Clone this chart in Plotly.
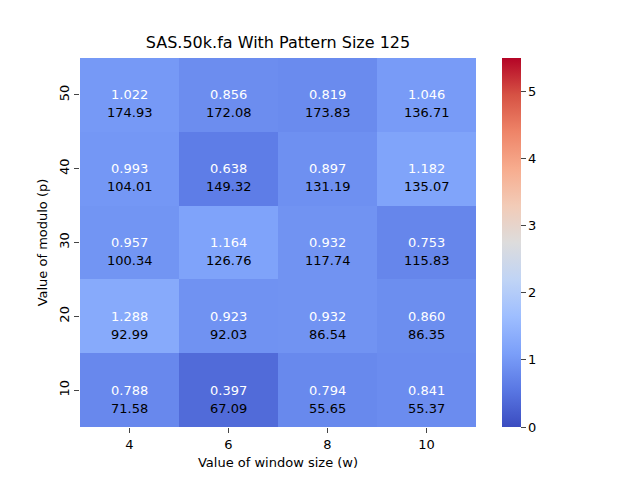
import plotly.graph_objects as go

window_sizes = ["4", "6", "8", "10"]
modulos = ["10", "20", "30", "40", "50"]

# ratio values (white, coloured cell) – rows from p=10 up to p=50
ratio = [
    [0.788, 0.397, 0.794, 0.841],
    [1.288, 0.923, 0.932, 0.860],
    [0.957, 1.164, 0.932, 0.753],
    [0.993, 0.638, 0.897, 1.182],
    [1.022, 0.856, 0.819, 1.046],
]

# second line of each cell (black)
timing = [
    [71.58, 67.09, 55.65, 55.37],
    [92.99, 92.03, 86.54, 86.35],
    [100.34, 126.76, 117.74, 115.83],
    [104.01, 149.32, 131.19, 135.07],
    [174.93, 172.08, 173.83, 136.71],
]

coolwarm = ["#3b4cc0", "#5977e3", "#7b9ff9", "#9ebeff", "#c0d4f5", "#dddcdc",
            "#f2cbb7", "#f7ac8e", "#ee8468", "#d65244", "#b40426"]
scale = [[i / 10, c] for i, c in enumerate(coolwarm)]

fig = go.Figure(go.Heatmap(
    x=window_sizes, y=modulos, z=ratio,
    zmin=0, zmax=5.5, colorscale=scale,
    xgap=0, ygap=0, hoverinfo="skip",
    colorbar=dict(x=1.066, xanchor="left", xpad=0, ypad=0, thickness=19,
                  len=1, outlinewidth=0, ticks="outside", ticklen=5,
                  tickvals=[0, 1, 2, 3, 4, 5],
                  tickfont=dict(size=13, color="black")),
))

annotations = []
for i, p in enumerate(modulos):
    for j, w in enumerate(window_sizes):
        annotations.append(dict(x=j, y=i, text=f"{ratio[i][j]:.3f}", showarrow=False,
                                yshift=0, font=dict(size=13, color="white")))
        annotations.append(dict(x=j, y=i, text=f"{timing[i][j]:.2f}", showarrow=False,
                                yshift=-18, font=dict(size=13, color="black")))

# page body adds 8px, so margins are pulled in by 8
fig.update_layout(
    width=640, height=480,
    margin=dict(l=72, r=172, t=50, b=61),
    paper_bgcolor="white", plot_bgcolor="white",
    font=dict(family="DejaVu Sans", color="black"),
    title=dict(text="SAS.50k.fa With Pattern Size 125", x=270 / 640,
               xanchor="center", y=1 - 34 / 480, yanchor="middle",
               font=dict(size=16)),
    xaxis=dict(type="category", title=dict(text="Value of window size (w)", font=dict(size=13), standoff=7),
               ticks="outside", ticklen=5, tickfont=dict(size=13), showgrid=False,
               zeroline=False),
    yaxis=dict(type="category", title=dict(text="Value of modulo (p)", font=dict(size=13), standoff=6),
               ticks="outside", ticklen=5, tickfont=dict(size=13), tickangle=-90,
               showgrid=False, zeroline=False),
    annotations=annotations,
)

fig.write_html("out.html")
